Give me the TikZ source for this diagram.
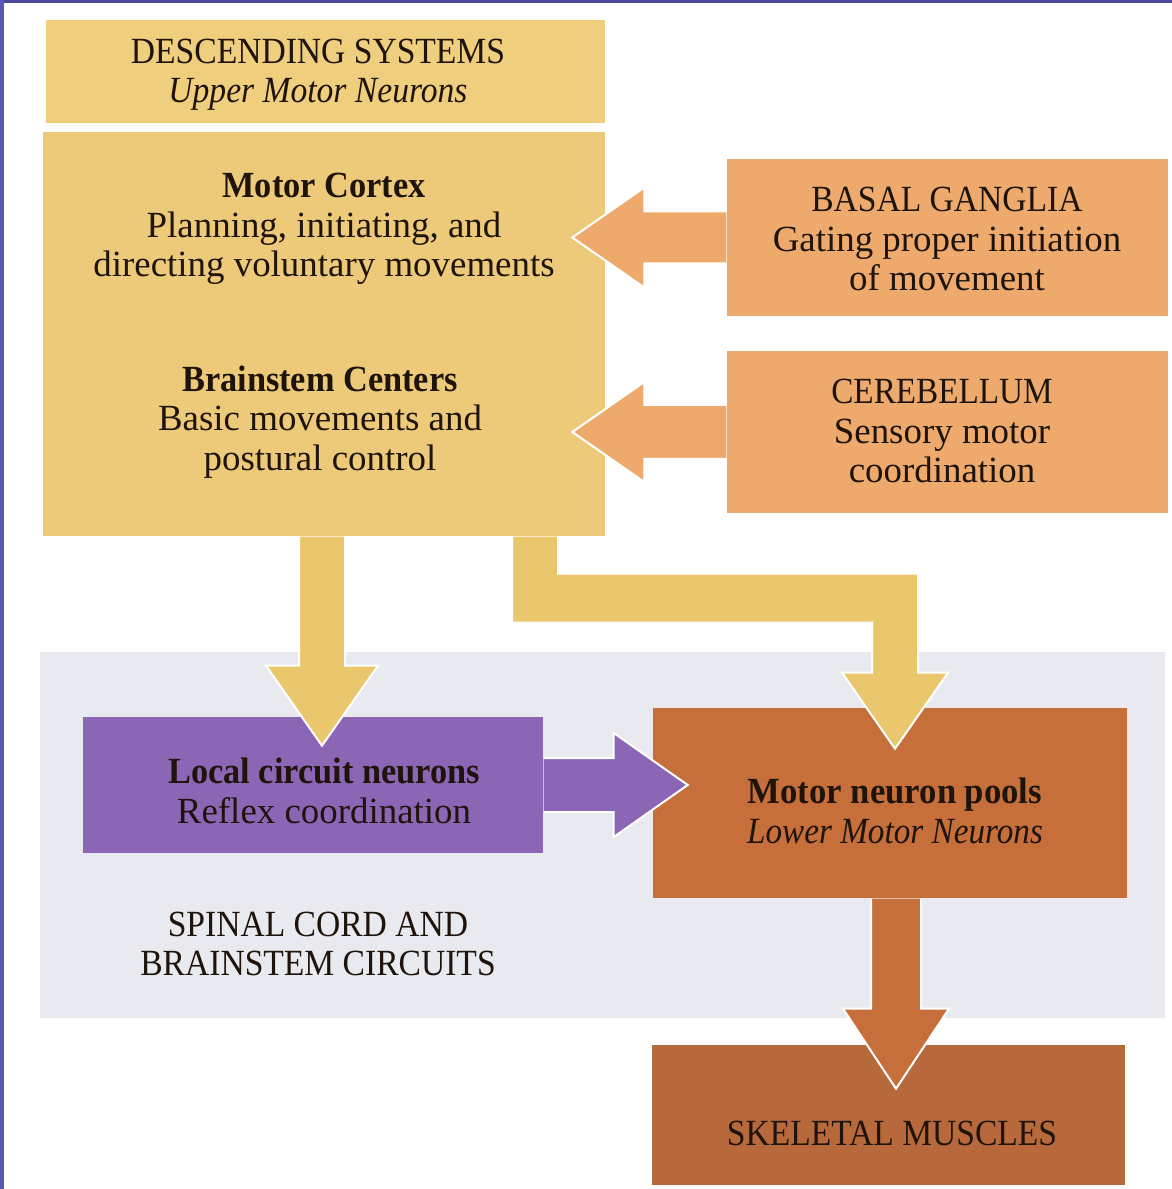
\documentclass[tikz,border=0pt]{standalone}
\usepackage{fontspec}
\setmainfont{Liberation Serif}
\newcommand{\narrowtxt}[2][0.91]{{\addfontfeature{FakeStretch=#1}#2}}
\definecolor{frametop}{HTML}{4A4A9C}
\definecolor{frameleft}{HTML}{5858BA}
\definecolor{hdryel}{HTML}{EFCE7E}
\definecolor{mainyel}{HTML}{EDCA79}
\definecolor{arryel}{HTML}{EAC76C}
\definecolor{orng}{HTML}{EEAA6C}
\definecolor{purp}{HTML}{8B66B5}
\definecolor{pool}{HTML}{C66F3A}
\definecolor{musc}{HTML}{B8693B}
\definecolor{band}{HTML}{E9EAEF}
\definecolor{ink}{HTML}{1E140C}
\begin{document}
\begin{tikzpicture}[x=0.1mm, y=-0.1mm,
  box/.style={rectangle, inner sep=0pt, draw=none},
  txt/.style={align=center, inner sep=0pt, text=ink, font=\fontsize{10.5}{11.2}\selectfont},
  head/.style={draw=white, line width=0.2mm}]
  % bounding box and frame
  \useasboundingbox (0,0) rectangle (1172,1189);
  \fill[frametop] (0,0) rectangle (1172,3);
  \fill[frameleft] (0,0) rectangle (4,1189);
  % spinal cord band
  \fill[band] (40,652) rectangle (1165,1018);
  % boxes
  \node[box, fill=hdryel, minimum width=55.9mm, minimum height=10.3mm] (desc) at (325.5,71.5) {};
  \node[box, fill=mainyel, minimum width=56.2mm, minimum height=40.4mm] (main) at (324,334) {};
  \node[box, fill=orng, minimum width=44.1mm, minimum height=15.7mm] (bg) at (947.5,237.5) {};
  \node[box, fill=orng, minimum width=44.1mm, minimum height=16.2mm] (cb) at (947.5,432) {};
  \node[box, fill=purp, minimum width=46mm, minimum height=13.6mm] (lc) at (313,785) {};
  \node[box, fill=pool, minimum width=47.4mm, minimum height=19mm] (mn) at (890,803) {};
  \node[box, fill=musc, minimum width=47.3mm, minimum height=14mm] (sk) at (888.5,1115) {};
  % basal ganglia and cerebellum into the cortex
  \filldraw[fill=orng, head] (bg.west) ++(0,-26) -- ++(-82,0) -- ++(0,-24) -- ++(-72,50)
    -- ++(72,50) -- ++(0,-24) -- ++(82,0);
  \filldraw[fill=orng, head] (cb.west) ++(0,-27) -- ++(-82,0) -- ++(0,-23) -- ++(-72,50)
    -- ++(72,50) -- ++(0,-23) -- ++(82,0);
  % descending arrows
  \filldraw[fill=arryel, head] (main.south) ++(-25,0) -- ++(0,129) -- ++(-33,0) -- ++(56,80)
    -- ++(56,-80) -- ++(-33,0) -- ++(0,-129);
  \filldraw[fill=arryel, head] (main.south) ++(188,0) -- ++(0,86) -- ++(360,0) -- ++(0,50)
    -- ++(-30,0) -- ++(53,76) -- ++(53,-76) -- ++(-30,0) -- ++(0,-99) -- ++(-360,0) -- ++(0,-37);
  % local circuits to motor neurons
  \filldraw[fill=purp, head] (lc.east) ++(0,-27) -- ++(70,0) -- ++(0,-25) -- ++(74,52)
    -- ++(-74,52) -- ++(0,-25) -- ++(-70,0);
  % motor neurons to muscles
  \filldraw[fill=pool, head] (mn.south) ++(-19,0) -- ++(0,110) -- ++(-28,0) -- ++(53,80)
    -- ++(53,-80) -- ++(-28,0) -- ++(0,-110);
  % labels
  \node[txt] (desctxt) at (318,75) {\narrowtxt{DESCENDING SYSTEMS}\\\textit{\narrowtxt{Upper Motor Neurons}}};
  \node[txt] (mctxt) at (324,229) {\textbf{\narrowtxt[0.93]{Motor Cortex}}\\Planning, initiating, and\\directing voluntary movements};
  \node[txt] (bstxt) at (320,422) {\textbf{\narrowtxt[0.93]{Brainstem Centers}}\\Basic movements and\\postural control};
  \node[txt] (bgtxt) at (947,239) {\narrowtxt{BASAL GANGLIA}\\Gating proper initiation\\of movement};
  \node[txt] (cbtxt) at (942,431) {\narrowtxt[0.9]{CEREBELLUM}\\Sensory motor\\coordination};
  \node[txt] (lctxt) at (324,791) {\textbf{\narrowtxt[0.93]{Local circuit neurons}}\\Reflex coordination};
  \node[txt] (mntxt) at (895,811) {\textbf{\narrowtxt[0.94]{Motor neuron pools}}\\\textit{\narrowtxt[0.9]{Lower Motor Neurons}}};
  \node[txt] (sctxt) at (318,944) {\narrowtxt{SPINAL CORD AND}\\\narrowtxt{BRAINSTEM CIRCUITS}};
  \node[txt] (sktxt) at (892,1133) {\narrowtxt{SKELETAL MUSCLES}};
\end{tikzpicture}
\end{document}
